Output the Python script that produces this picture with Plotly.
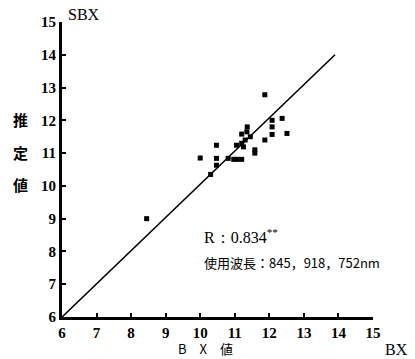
import plotly.graph_objects as go

# Data
bx_values = [8.45, 10.0, 10.3, 10.47, 10.47, 10.47, 10.81, 10.97, 11.07, 11.2,
             11.05, 11.2, 11.25, 11.3, 11.2, 11.35, 11.36, 11.45, 11.58, 11.58,
             11.87, 11.87, 12.08, 12.08, 12.08, 12.37, 12.51]
sbx_values = [9.0, 10.85, 10.35, 10.63, 10.84, 11.24, 10.84, 10.81, 10.81, 10.81,
              11.24, 11.3, 11.19, 11.4, 11.58, 11.65, 11.8, 11.5, 11.0, 11.1,
              11.4, 12.78, 11.57, 11.8, 12.0, 12.06, 11.6]
line_x = [6.0, 13.9]
line_y = [6.0, 14.0]
tick_vals = [6, 7, 8, 9, 10, 11, 12, 13, 14, 15]

serif = "Liberation Serif"
cjk = "Noto Sans CJK JP"

fig = go.Figure()
fig.add_trace(go.Scatter(x=line_x, y=line_y, mode="lines",
                         line=dict(color="black", width=1.6), hoverinfo="skip"))
fig.add_trace(go.Scatter(x=bx_values, y=sbx_values, mode="markers",
                         marker=dict(symbol="square", size=5, color="black")))

axis_common = dict(range=[6, 15], tickvals=tick_vals, showgrid=False, zeroline=False,
                   showline=True, linecolor="black", linewidth=3,
                   ticks="inside", ticklen=4, tickwidth=2, tickcolor="black",
                   tickfont=dict(family=serif, size=15, color="black", weight="bold"))
fig.update_xaxes(**axis_common)
fig.update_yaxes(**axis_common)

fig.update_layout(
    width=415, height=359,
    margin=dict(l=62, r=42, t=22, b=42),
    paper_bgcolor="white", plot_bgcolor="white",
    showlegend=False,
)

ann = [
    dict(text="SBX", x=66, y=15, xanchor="left", yanchor="middle",
         font=dict(family=serif, size=16)),
    dict(text="BX", x=396, y=349, xanchor="center", yanchor="middle",
         font=dict(family=serif, size=16)),
    dict(text="B　X　値", x=205, y=358, xanchor="center", yanchor="bottom",
         font=dict(family=cjk, size=13), height=15),
    dict(text="推", x=20, y=119, xanchor="center", yanchor="middle",
         font=dict(family=cjk, size=15, weight="bold")),
    dict(text="定", x=20, y=152, xanchor="center", yanchor="middle",
         font=dict(family=cjk, size=15, weight="bold")),
    dict(text="値", x=20, y=185, xanchor="center", yanchor="middle",
         font=dict(family=cjk, size=15, weight="bold")),
    dict(text="R：0.834<sup>**</sup>", x=202, y=236, xanchor="left", yanchor="middle",
         font=dict(family=serif, size=16)),
    dict(text="使用波長：845，918，752nm", x=202, y=262, xanchor="left", yanchor="middle",
         font=dict(family=cjk, size=13)),
]
for a in ann:
    extra = {"height": a["height"]} if "height" in a else {}
    fig.add_annotation(xref="paper", yref="paper",
                       x=(a["x"] - 62) / (415 - 62 - 42),
                       y=(359 - 42 - a["y"]) / (359 - 22 - 42),
                       text=a["text"], showarrow=False,
                       xanchor=a["xanchor"], yanchor=a["yanchor"],
                       font=dict(color="black", **a["font"]), **extra)

fig.write_html("out.html", config={"displayModeBar": False},
               post_script="document.body.style.margin='0';document.body.style.overflow='hidden';")
